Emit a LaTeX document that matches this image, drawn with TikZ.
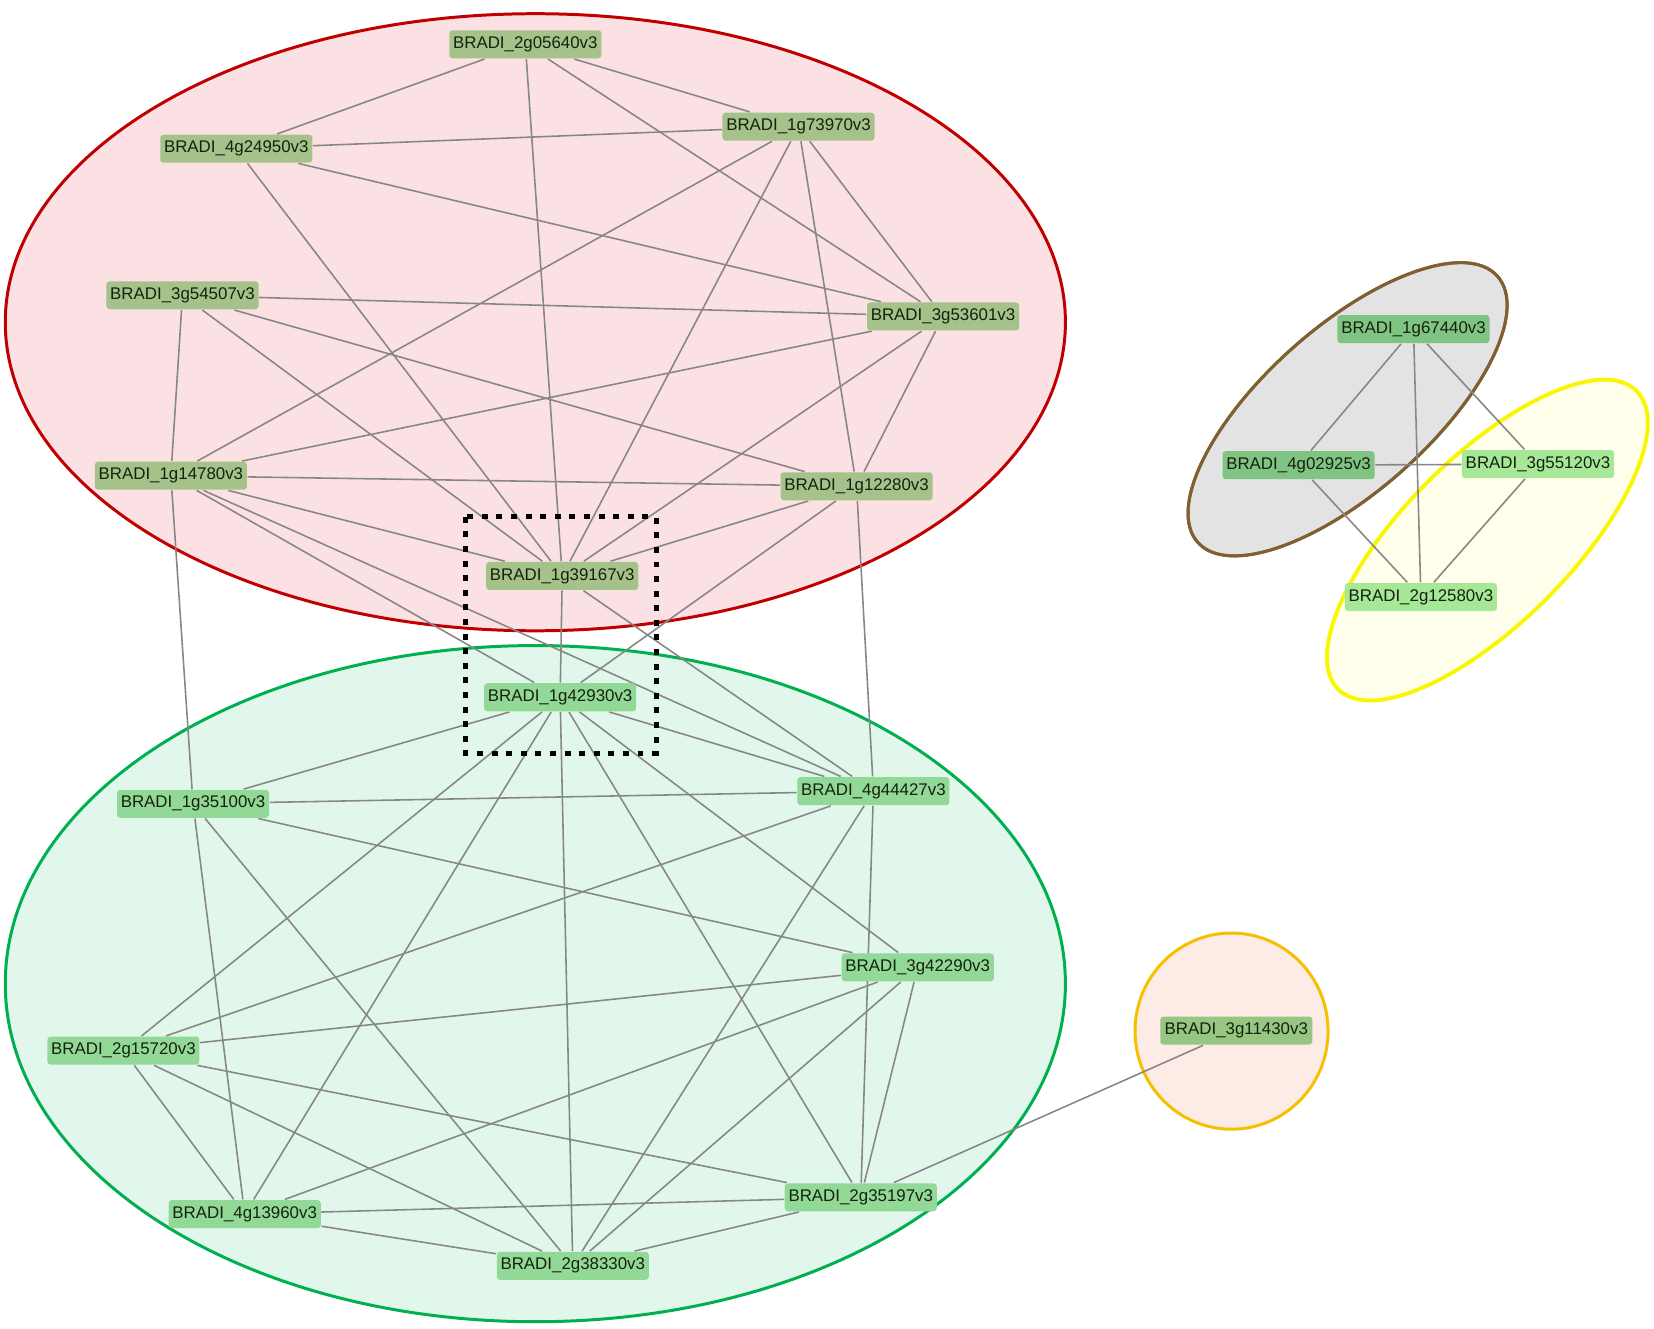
\documentclass[tikz,border=0pt]{standalone}
\usepackage{fontspec}
\setmainfont{Liberation Sans}
\pgfdeclarelayer{bg}
\pgfdeclarelayer{edges}
\pgfdeclarelayer{fg}
\pgfsetlayers{bg,edges,main,fg}
\definecolor{redfill}{RGB}{252,225,228}
\definecolor{redline}{RGB}{192,0,0}
\definecolor{greenfill}{RGB}{226,247,236}
\definecolor{greenline}{RGB}{0,176,80}
\definecolor{grayfill}{RGB}{227,227,227}
\definecolor{brownline}{RGB}{128,96,48}
\definecolor{yellowfill}{RGB}{255,255,222}
\definecolor{yellowline}{RGB}{250,245,0}
\definecolor{orangefill}{RGB}{253,235,230}
\definecolor{orangeline}{RGB}{245,192,0}
\definecolor{olivenode}{RGB}{164,194,138}
\definecolor{greennode}{RGB}{146,216,150}
\definecolor{darknode}{RGB}{128,196,132}
\definecolor{lightnode}{RGB}{166,232,152}
\definecolor{singlenode}{RGB}{150,198,130}
\definecolor{edgec}{RGB}{135,135,135}
\definecolor{txt}{RGB}{22,34,14}
\tikzset{
  gene/.style={rectangle, rounded corners=0.9pt, minimum width=1.52cm,
    minimum height=0.28cm, inner sep=0pt, text=txt,
    font=\fontsize{4.8}{5}\selectfont},
  redg/.style={gene, fill=olivenode},
  greeng/.style={gene, fill=greennode},
  darkg/.style={gene, fill=darknode},
  lightg/.style={gene, fill=lightnode},
  singleg/.style={gene, fill=singlenode},
  link/.style={draw=edgec, line width=0.45pt},
  cluster/.style={line width=0.85pt},
}
\begin{document}
\begin{tikzpicture}[x={(0.010548cm,0)}, y={(0,-0.010548cm)}]
\useasboundingbox (0,0) rectangle (1568,1259);

% clusters
\begin{pgfonlayer}{bg}
  \draw[cluster, draw=redline, fill=redfill] (507.5,305.5) ellipse [x radius=502.5, y radius=292.5];
  \draw[cluster, draw=greenline, fill=greenfill] (507.5,932.5) ellipse [x radius=502.5, y radius=320.5];
  \draw[cluster, draw=brownline, fill=grayfill, rotate around={41.6:(1277.5,388)}] (1277.5,388) ellipse [x radius=190, y radius=78];
  \draw[cluster, line width=1.1pt, draw=yellowline, fill=yellowfill, fill opacity=0.6, rotate around={45:(1410,512)}] (1410,512) ellipse [x radius=200, y radius=79];
  \draw[cluster, draw=brownline, rotate around={41.6:(1277.5,388)}] (1277.5,388) ellipse [x radius=190, y radius=78];
  \draw[cluster, draw=orangeline, fill=orangefill] (1167.5,977.5) ellipse [x radius=91.5, y radius=93];
\end{pgfonlayer}

% red cluster nodes
\node[redg] (a) at (498,42) {BRADI\_2g05640v3};
\node[redg] (b) at (757,120) {BRADI\_1g73970v3};
\node[redg] (c) at (224,141) {BRADI\_4g24950v3};
\node[redg] (d) at (173,280) {BRADI\_3g54507v3};
\node[redg] (e) at (894,300) {BRADI\_3g53601v3};
\node[redg] (f) at (162,451) {BRADI\_1g14780v3};
\node[redg] (g) at (812,461) {BRADI\_1g12280v3};
\node[redg] (h) at (533,546) {BRADI\_1g39167v3};
% green cluster nodes
\node[greeng] (i) at (531,661) {BRADI\_1g42930v3};
\node[greeng] (j) at (183,762) {BRADI\_1g35100v3};
\node[greeng] (k) at (828,750) {BRADI\_4g44427v3};
\node[greeng] (l) at (870,917) {BRADI\_3g42290v3};
\node[greeng] (m) at (117,996) {BRADI\_2g15720v3};
\node[greeng] (n) at (232,1151) {BRADI\_4g13960v3};
\node[greeng] (o) at (816,1135) {BRADI\_2g35197v3};
\node[greeng] (p) at (543,1200) {BRADI\_2g38330v3};
% right clusters
\node[darkg] (q) at (1340,312) {BRADI\_1g67440v3};
\node[darkg] (r) at (1231,441) {BRADI\_4g02925v3};
\node[lightg] (s) at (1458,440) {BRADI\_3g55120v3};
\node[lightg] (t) at (1347,566) {BRADI\_2g12580v3};
\node[singleg] (u) at (1172,977) {BRADI\_3g11430v3};

\begin{pgfonlayer}{edges}
\foreach \p/\q in {a/c, a/b, a/h, a/e, b/c, b/f, b/h, b/g, b/e, c/e, c/h,
  d/e, d/f, d/h, d/g, e/f, e/h, e/g, f/g, f/h, f/i, f/k, f/j, g/h, g/i, g/k,
  h/i, h/k,
  i/j, i/m, i/n, i/p, i/o, i/l, i/k, j/k, j/l, j/p, j/n, k/m, k/p, k/o,
  l/m, l/n, l/p, l/o, m/o, o/n, o/p, o/u, m/n, m/p, n/p,
  q/r, q/t, q/s, r/s, r/t, s/t}
  \draw[link] (\p) -- (\q);
\end{pgfonlayer}

\begin{pgfonlayer}{fg}
  \draw[line width=1.4pt, dash pattern=on 1.7pt off 2.45pt] (441,490) rectangle (622,714);
\end{pgfonlayer}
\end{tikzpicture}
\end{document}
